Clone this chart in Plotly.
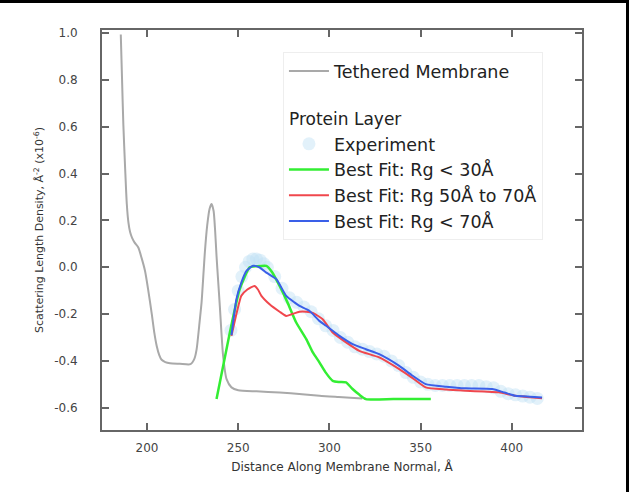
import plotly.graph_objects as go

# Tethered membrane SLD profile (x in Å, SLD x1e-6)
mem_x = [185.6, 186.3, 187.0, 188.0, 188.9, 189.8, 190.7, 191.8, 193.2, 195.2, 197.0, 198.9, 200.5,
         202.6, 204.0, 205.3, 206.7, 208.0, 210.0, 212.6, 218.0, 223.8,
         226.0, 227.2, 228.6, 229.9, 231.0, 231.7, 233.0, 234.3, 235.4, 236.5, 237.3, 238.1, 239.0,
         239.9, 240.8, 241.7, 243.6, 246.3, 250.0, 260.0, 272.7, 285.0, 294.6, 305.0, 318.0]
mem_y = [0.994, 0.80, 0.61, 0.42, 0.27, 0.19, 0.15, 0.125, 0.105, 0.084, 0.04, -0.016, -0.09,
         -0.20, -0.28, -0.336, -0.375, -0.395, -0.405, -0.41, -0.412, -0.414,
         -0.39, -0.35, -0.25, -0.15, -0.02, 0.064, 0.18, 0.25, 0.27, 0.24, 0.16, 0.048, -0.06,
         -0.165, -0.28, -0.378, -0.478, -0.513, -0.525, -0.53, -0.535, -0.542, -0.549, -0.554, -0.56]

# Experiment (protein layer)
exp_x = [246, 248, 250, 252, 254, 256, 258, 260, 262, 264, 266, 270, 274, 278, 282, 286, 290, 294, 298,
         302, 306, 310, 314, 318, 322, 326, 330, 334, 338, 342, 346, 350, 354, 358, 362, 366,
         370, 374, 378, 382, 386, 390, 394, 398, 402, 406, 410, 414]
exp_y = [-0.27, -0.18, -0.10, -0.04, 0.00, 0.025, 0.035, 0.035, 0.03, 0.015, 0.00, -0.04, -0.09, -0.13,
         -0.15, -0.17, -0.19, -0.22, -0.25, -0.27, -0.30, -0.32, -0.34, -0.35, -0.36, -0.37,
         -0.38, -0.40, -0.42, -0.45, -0.47, -0.49, -0.50, -0.505, -0.505, -0.505, -0.505,
         -0.505, -0.505, -0.505, -0.51, -0.515, -0.53, -0.54, -0.545, -0.55, -0.555, -0.56]

# Best fit: Rg < 30 Å
g_x = [238.1, 245.4, 250.8, 256.3, 260.0, 265.4, 268.5, 272.7, 277.0, 281.8, 287.3, 290.9, 294.5,
       298.0, 301.8, 305.5, 309.1, 312.7, 316.5, 320.0, 335.0, 355.6]
g_y = [-0.563, -0.279, -0.094, 0.0, 0.004, 0.006, -0.02, -0.08, -0.15, -0.236, -0.307, -0.364, -0.406,
       -0.45, -0.485, -0.49, -0.492, -0.52, -0.545, -0.563, -0.563, -0.563]

# Best fit: Rg 50 Å to 70 Å
r_x = [246.3, 249.0, 251.7, 255.0, 258.9, 260.8, 262.7, 267.2, 272.7, 276.3, 279.5, 283.6, 287.3,
       290.9, 296.3, 301.8, 309.1, 316.4, 327.3, 338.3, 345.0, 352.8, 364.0, 374.6, 385.0,
       392.9, 402.0, 410.0, 416.6]
r_y = [-0.293, -0.2, -0.122, -0.095, -0.08, -0.095, -0.122, -0.158, -0.19, -0.208, -0.2, -0.19, -0.19,
       -0.195, -0.222, -0.279, -0.321, -0.357, -0.385, -0.435, -0.47, -0.513, -0.522, -0.527, -0.531,
       -0.534, -0.549, -0.555, -0.559]

# Best fit: Rg < 70 Å
b_x = [246.3, 249.0, 251.5, 254.5, 258.1, 261.5, 265.4, 270.9, 276.3, 280.8, 283.6, 289.0, 294.5,
       298.2, 305.5, 312.7, 320.0, 327.3, 338.3, 345.0, 352.8, 364.0, 374.6, 389.2, 396.0, 402.0,
       410.0, 416.6]
b_y = [-0.29, -0.136, -0.07, -0.016, 0.006, 0.0, -0.023, -0.051, -0.122, -0.15, -0.165, -0.186, -0.229,
       -0.25, -0.293, -0.328, -0.35, -0.371, -0.421, -0.46, -0.499, -0.51, -0.517, -0.52, -0.535,
       -0.549, -0.553, -0.556]

x_ticks = [200, 250, 300, 350, 400]
y_ticks = [-0.6, -0.4, -0.2, 0.0, 0.2, 0.4, 0.6, 0.8, 1.0]

FONT = "DejaVu Sans"

fig = go.Figure()
fig.add_trace(go.Scatter(x=mem_x, y=mem_y, mode="lines", name="Tethered Membrane",
                         line=dict(color="#a9a9a9", width=2, shape="spline", smoothing=0.6),
                         legendgroup="mem"))
fig.add_trace(go.Scatter(x=exp_x, y=exp_y, mode="markers", name="Experiment",
                         marker=dict(size=13, color="rgba(190,225,245,0.45)",
                                     line=dict(width=0)),
                         legendgroup="exp", legendgrouptitle=dict(text="<br>Protein Layer",
                                                                  font=dict(size=17, color="#222", family=FONT))))
fig.add_trace(go.Scatter(x=g_x, y=g_y, mode="lines", name="Best Fit: Rg &lt; 30Å",
                         line=dict(color="#33ee33", width=2.5, shape="spline", smoothing=0.5),
                         legendgroup="g"))
fig.add_trace(go.Scatter(x=r_x, y=r_y, mode="lines", name="Best Fit: Rg 50Å to 70Å",
                         line=dict(color="#f0474d", width=2, shape="spline", smoothing=0.5),
                         legendgroup="r"))
fig.add_trace(go.Scatter(x=b_x, y=b_y, mode="lines", name="Best Fit: Rg &lt; 70Å",
                         line=dict(color="#3a5fe8", width=2, shape="spline", smoothing=0.5),
                         legendgroup="b"))

axis_common = dict(showline=True, linecolor="#666", linewidth=2, mirror="ticks",
                   ticks="inside", ticklen=7, tickwidth=2, tickcolor="#666",
                   showgrid=False, zeroline=False,
                   tickfont=dict(family=FONT, size=12, color="#444"))

fig.update_xaxes(range=[175.3, 438.5], tickvals=x_ticks, ticktext=[str(v) for v in x_ticks],
                 title=dict(text="Distance Along Membrane Normal, Å",
                            font=dict(family=FONT, size=12, color="#333"), standoff=8),
                 ticklabelstandoff=6, **axis_common)
fig.update_yaxes(range=[-0.695, 1.013], tickvals=y_ticks, ticktext=[f"{v:.1f}" for v in y_ticks],
                 title=dict(text="Scattering Length Density, Å<sup>-2</sup> (x10<sup>-6</sup>)",
                            font=dict(family=FONT, size=11, color="#333"), standoff=8),
                 ticklabelstandoff=20, **axis_common)

fig.update_layout(
    width=629, height=492,
    margin=dict(l=102, r=47, t=30, b=62),
    paper_bgcolor="white", plot_bgcolor="white",
    font=dict(family=FONT, color="#222"),
    legend=dict(x=0.377, y=0.945, xanchor="left", yanchor="top",
                bgcolor="white", bordercolor="#eeeeee", borderwidth=1,
                font=dict(family=FONT, size=17.5, color="#222"),
                tracegroupgap=0, itemwidth=40, traceorder="grouped"),
    shapes=[
        dict(type="rect", xref="paper", yref="paper", x0=-0.3, x1=1.2,
             y0=1 + 27 / 400, y1=1.2, fillcolor="black", line=dict(width=0), layer="above"),
        dict(type="rect", xref="paper", yref="paper", x0=1 + 44 / 480, x1=1.2,
             y0=-0.3, y1=1.2, fillcolor="black", line=dict(width=0), layer="above"),
    ],
)

fig.write_html("out.html")
